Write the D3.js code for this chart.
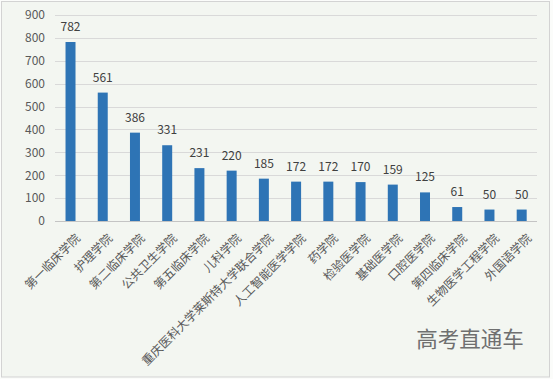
<!DOCTYPE html>
<html><head><meta charset="utf-8">
<script src="https://cdn.jsdelivr.net/npm/d3@7"></script>
<style>
html,body{margin:0;padding:0;background:#fbfcfa;}
svg{display:block;}
</style></head>
<body>
<svg id="c" width="553" height="379"></svg>
<script>
const categories = ["第一临床学院","护理学院","第二临床学院","公共卫生学院","第五临床学院","儿科学院","重庆医科大学莱斯特大学联合学院","人工智能医学学院","药学院","检验医学院","基础医学院","口腔医学院","第四临床学院","生物医学工程学院","外国语学院"];
const values = [782,561,386,331,231,220,185,172,172,170,159,125,61,50,50];
const yTicks = [0,100,200,300,400,500,600,700,800,900];

const svg = d3.select("#c");
svg.append("rect").attr("x",1.5).attr("y",1.5).attr("width",548).attr("height",375.5)
  .attr("fill","#f3f6f1").attr("stroke","#d3d3d3");

const x = d3.scaleBand().domain(categories).range([54.4,537.8]).paddingInner(0.69).paddingOuter(0.345);
const y = d3.scaleLinear().domain([0,900]).range([221,15]);
const font = "'Noto Sans CJK SC','Liberation Sans',sans-serif";

// gridlines
svg.append("g").selectAll("line").data(yTicks.filter(d=>d>0)).join("line")
  .attr("x1",55).attr("x2",537).attr("y1",d=>Math.round(y(d))+0.5).attr("y2",d=>Math.round(y(d))+0.5)
  .attr("stroke","#d9d9d9").attr("stroke-width",1);

// y axis labels
const yAxis = d3.axisLeft(y).tickValues(yTicks).tickSize(0).tickPadding(0);
const gy = svg.append("g").attr("transform","translate(45,0)").call(yAxis);
gy.select(".domain").remove();
gy.selectAll("text").attr("fill","#595959").style("font-family",font).style("font-size","12px");

// bars
svg.append("g").selectAll("rect").data(values).join("rect")
  .attr("x",(d,i)=>x(categories[i])).attr("width",x.bandwidth())
  .attr("y",d=>y(d)).attr("height",d=>y(0)-y(d)).attr("fill","#2e74b5");

// baseline
svg.append("line").attr("x1",55).attr("x2",537).attr("y1",y(0)+0.5).attr("y2",y(0)+0.5)
  .attr("stroke","#c4c4c4");

// value labels
svg.append("g").selectAll("text").data(values).join("text")
  .attr("x",(d,i)=>x(categories[i])+x.bandwidth()/2).attr("y",d=>y(d)-11)
  .attr("text-anchor","middle").attr("fill","#404040")
  .style("font-family",font).style("font-size","12px").text(d=>d);

// x labels
const xAxis = d3.axisBottom(x).tickSize(0).tickPadding(0);
const gx = svg.append("g").attr("transform","translate(0,221)").call(xAxis);
gx.select(".domain").remove();
gx.selectAll("text")
  .attr("text-anchor","end").attr("fill","#595959")
  .style("font-family",font).style("font-size","12px")
  .attr("dy",null).attr("y",null)
  .attr("transform","translate(7.5,15) rotate(-45)")
  .attr("dy","0.35em");

// watermark
svg.append("text").attr("x",470).attr("y",347).attr("text-anchor","middle")
  .attr("fill","#6f6f6f").style("font-family",font).style("font-size","21.5px").text("高考直通车");
</script>
</body></html>
